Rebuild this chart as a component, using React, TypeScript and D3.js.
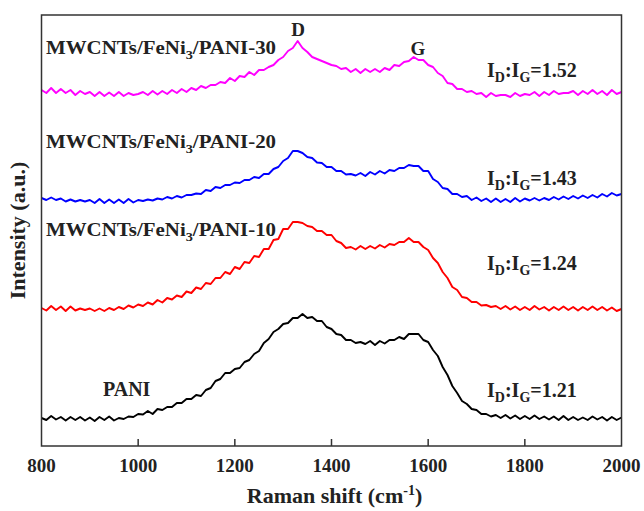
import React from "react";
import * as d3 from "d3";

const ramanShift: number[] = d3.range(800, 2001, 10);

const pani30: number[] = [
  356, 353, 358, 353, 357, 353, 356, 351, 355, 352,
  354, 350, 354, 350, 353.5, 350, 354, 350, 353, 351,
  352, 354, 351, 355, 351.5, 355, 352, 356, 353, 357,
  354, 358, 356, 360, 358, 361, 361, 364, 363, 368,
  365, 370, 369, 374, 371, 376, 376, 379, 381, 386,
  389, 395, 398, 405, 398, 394, 389, 387, 385, 383,
  381, 380, 377, 378, 374, 377, 373, 377, 374, 377,
  374, 378, 376, 381, 380, 384, 385, 389, 386, 386,
  381, 379, 373, 370, 363, 362, 357, 357, 354, 355,
  352, 353, 349, 353, 350, 351, 351, 349, 353, 350,
  352, 351, 354, 350, 354, 351, 355, 352, 353, 353,
  355, 351, 355, 352, 356, 352, 355, 351, 356, 352,
  354,
];

const pani20: number[] = [
  248, 246, 248.5, 246, 247.5, 244.5, 246.5, 244.5, 246, 244.5,
  246, 243, 247, 243, 246.5, 243, 246.5, 243, 247, 243.5,
  246, 245, 246.5, 245.5, 247.5, 246.5, 249, 247.5, 250, 248.5,
  251, 251, 252.5, 252, 256, 255, 259, 258, 261, 261,
  263.5, 263, 266, 266, 269, 268, 272, 272, 277, 279,
  285, 288, 295, 295, 293, 289, 288, 283.5, 283, 279,
  279, 275, 275, 271.5, 272, 270.5, 273, 270, 274, 271.5,
  275, 272.5, 276, 275, 278, 278, 281, 280, 280, 275,
  275, 267, 264, 258, 257, 252, 252, 249, 250, 246,
  248.5, 245, 247.5, 244, 247.5, 244, 247, 244, 248, 244.5,
  247.5, 245.5, 248, 245.5, 248, 246, 249, 246.5, 249.5, 247,
  250, 247.5, 250.5, 248, 251, 248.5, 252, 249.5, 253, 250.5,
  252,
];

const pani10: number[] = [
  138, 135.5, 140, 136, 139.5, 135, 139.5, 135.5, 137.5, 136,
  137.5, 135, 137.5, 135, 138, 136, 139, 137, 140.5, 138.5,
  141.5, 140, 143.5, 141.5, 146, 143.5, 148, 146.5, 150.5, 149,
  154.5, 153, 158.5, 157, 163, 162, 168, 168, 174, 172,
  179, 177, 184, 183, 190, 189, 197, 197, 206, 207,
  217, 217, 224, 224, 223, 220, 219, 215, 215, 211,
  211, 205, 203, 198, 199, 196.5, 200, 197, 200, 197.5,
  201, 198.5, 202, 201, 204, 204, 208, 204, 204, 199,
  196, 188, 183, 174, 168, 159, 156, 149, 148, 144,
  144, 140.5, 141, 139, 140, 137, 140, 136.5, 139.5, 136,
  139, 136, 140, 136.5, 139, 135.5, 139, 136, 139.5, 136,
  139, 135.5, 139, 136, 139.5, 136, 139, 135.5, 138.5, 135,
  137,
];

const pani: number[] = [
  28, 26, 30, 26.5, 29, 25.5, 29, 26, 29, 25.5,
  28.5, 25, 29, 26, 29.5, 25.5, 28, 27, 29.5, 29,
  32, 31.5, 35, 32, 37, 36, 39, 39, 43, 43,
  47, 47, 51, 50, 56, 58, 65, 67, 73, 73,
  77, 78, 84, 86, 92, 95, 103, 107, 114, 117,
  122, 123, 128, 128, 132, 128, 129, 125, 125, 119,
  117, 112, 111, 106, 106, 103, 104, 102, 105, 101,
  105, 102.5, 106, 106, 109, 107, 112, 112, 112, 106,
  104, 96, 90, 79, 71, 60, 53, 45, 42, 37,
  36, 32, 32, 29.5, 31, 28, 31, 27.5, 30.5, 27,
  30, 27, 30.5, 27, 29.5, 26.5, 29.5, 26, 30, 26,
  29, 26, 28.5, 26, 29.5, 26.5, 29, 25.5, 29, 26,
  28.5,
];

const xTicks: number[] = [800, 1000, 1200, 1400, 1600, 1800, 2000];

const seriesNames: string[] = ["PANI", "MWCNTs/FeNi3/PANI-10", "MWCNTs/FeNi3/PANI-20", "MWCNTs/FeNi3/PANI-30"];
const seriesColors: string[] = ["#000000", "#ff0000", "#0000ff", "#ff00ff"];
const ratioLabels: string[] = ["1.21", "1.24", "1.43", "1.52"];

const W = 644;
const H = 511;
const left = 41.5;
const right = 621.5;
const top = 15;
const bottom = 446;

const FONT = "'Liberation Serif', 'Times New Roman', serif";

function MwLabel({ x, y, num }: { x: number; y: number; num: string }) {
  return (
    <text
      transform={`translate(${x},${y}) scale(1.1,1)`}
      fontFamily={FONT}
      fontWeight="bold"
      fontSize={19}
      fill="#222"
    >
      MWCNTs/FeNi
      <tspan dy={5} fontSize={13}>3</tspan>
      <tspan dy={-5}>/PANI-{num}</tspan>
    </text>
  );
}

function RatioLabel({ x, y, val }: { x: number; y: number; val: string }) {
  return (
    <text x={x} y={y} fontFamily={FONT} fontWeight="bold" fontSize={20} fill="#222">
      I<tspan dy={5} fontSize={14}>D</tspan>
      <tspan dy={-5}>:I</tspan>
      <tspan dy={5} fontSize={14}>G</tspan>
      <tspan dy={-5}>={val}</tspan>
    </text>
  );
}

export default function App() {
  const x = d3.scaleLinear().domain([800, 2000]).range([left, right]);
  const y = d3.scaleLinear().domain([0, 431]).range([bottom, top]);
  const all = [pani, pani10, pani20, pani30];
  const line = d3
    .line<number>()
    .x((_, i) => x(ramanShift[i]))
    .y((d) => y(d));

  return (
    <svg
      width={W}
      height={H}
      style={{ position: "absolute", left: 0, top: 0, background: "#fff" }}
    >
      <rect x={0} y={0} width={W} height={H} fill="#fff" />
      {all.map((s, i) => (
        <path
          key={seriesNames[i]}
          d={line(s) || ""}
          fill="none"
          stroke={seriesColors[i]}
          strokeWidth={1.9}
          strokeLinejoin="round"
        />
      ))}
      <rect
        x={left}
        y={top}
        width={right - left}
        height={bottom - top}
        fill="none"
        stroke="#333"
        strokeWidth={1.5}
      />
      {xTicks.slice(1, -1).map((t) => (
        <line key={t} x1={x(t)} x2={x(t)} y1={bottom} y2={bottom - 7} stroke="#333" strokeWidth={1.5} />
      ))}
      {xTicks.map((t) => (
        <text
          key={t}
          x={x(t)}
          y={bottom + 26}
          textAnchor="middle"
          fontFamily={FONT}
          fontWeight="bold"
          fontSize={19}
          fill="#222"
        >
          {t}
        </text>
      ))}
      <text
        x={(left + right) / 2 + 3}
        y={503}
        textAnchor="middle"
        fontFamily={FONT}
        fontWeight="bold"
        fontSize={22}
        fill="#222"
      >
        Raman shift (cm<tspan dy={-8} fontSize={14}>-1</tspan>
        <tspan dy={8}>)</tspan>
      </text>
      <text
        transform={`translate(25,${(top + bottom) / 2}) rotate(-90)`}
        textAnchor="middle"
        fontFamily={FONT}
        fontWeight="bold"
        fontSize={22}
        fill="#222"
      >
        Intensity (a.u.)
      </text>
      <MwLabel x={46} y={54} num="30" />
      <MwLabel x={46} y={148} num="20" />
      <MwLabel x={46} y={236} num="10" />
      <text x={103} y={396} fontFamily={FONT} fontWeight="bold" fontSize={20} fill="#222">
        PANI
      </text>
      <text x={298} y={36} textAnchor="middle" fontFamily={FONT} fontWeight="bold" fontSize={19} fill="#222">
        D
      </text>
      <text x={418} y={55} textAnchor="middle" fontFamily={FONT} fontWeight="bold" fontSize={19} fill="#222">
        G
      </text>
      <RatioLabel x={487} y={77} val={ratioLabels[3]} />
      <RatioLabel x={487} y={185} val={ratioLabels[2]} />
      <RatioLabel x={487} y={270} val={ratioLabels[1]} />
      <RatioLabel x={487} y={397} val={ratioLabels[0]} />
    </svg>
  );
}
